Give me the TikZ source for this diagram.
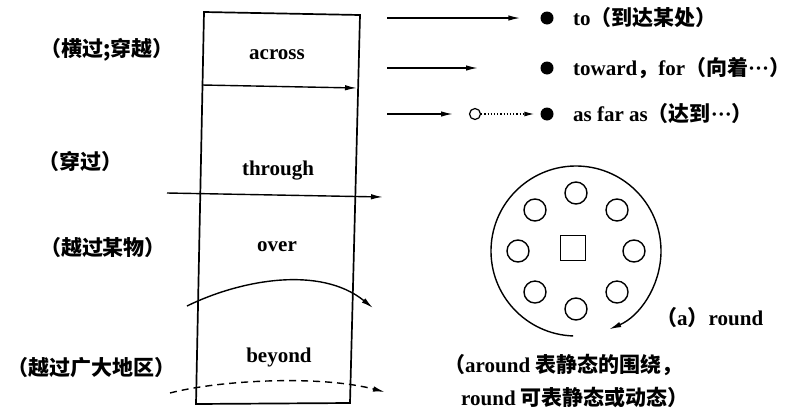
\documentclass[tikz,border=0pt]{standalone}
\usepackage{fontspec}
\setmainfont{Liberation Serif}
\newfontfamily\cjk{Noto Sans CJK SC}
\usetikzlibrary{arrows.meta}
\newcommand{\zh}[1]{{\cjk #1}}
\tikzstyle{word} = [font=\fontsize{21}{24}\selectfont\bfseries, inner sep=0pt]
\tikzstyle{note} = [word, anchor=west]
\tikzstyle{line} = [draw, line width=1.4pt, -{Latex[length=12pt,width=5.5pt]}]
\tikzstyle{dot} = [circle, fill=black, minimum size=13pt, inner sep=0pt]
\tikzstyle{ring} = [circle, draw, line width=1.4pt, minimum size=22pt, inner sep=0pt]

\begin{document}
\begin{tikzpicture}[x=1pt, y=-1pt]
\useasboundingbox (0,0) rectangle (793,410);
    % The box
\coordinate (c1) at (204,12);
\coordinate (c2) at (360,15);
\coordinate (c3) at (350,403);
\coordinate (c4) at (196,404);
\draw[line width=1.7pt] (c1) -- (c2) -- (c3) -- (c4) -- cycle;

    % Place nodes
\node[word] (across) at (277,55) {across};
\node[word] (through) at (278,171) {through};
\node[word] (over) at (277,247) {over};
\node[word] (beyond) at (279,357) {beyond};
\node[word] (l1) at (107,50) {\zh{（横过;穿越）}};
\node[word] (l2) at (80,161) {\zh{（穿过）}};
\node[word] (l3) at (103,248) {\zh{（越过某物）}};
\node[word] (l4) at (92,368) {\zh{（越过广大地区）}};

\node[dot] (d1) at (547,18) {};
\node[dot] (d2) at (547,68) {};
\node[dot] (d3) at (547,114) {};
\node[circle, draw, line width=1.2pt, minimum size=11pt, inner sep=0pt] (o3) at (475,114) {};
\node[note] (t1) at (573,18) {to\zh{（到达某处）}};
\node[note] (t2) at (573,68) {toward\zh{，}for\zh{（向着}···\zh{）}};
\node[note] (t3) at (573,114) {as far as\zh{（达到}···\zh{）}};

\coordinate (hub) at (576,251);
\node[draw, line width=1.4pt, minimum size=25pt, inner sep=0pt] (sq) at (573,248) {};
\foreach \a [count=\i] in {0,45,...,315}
    \node[ring] (s\i) at ([shift={(\a:58)}]hub) {};
\node[note] (ra) at (656,318) {\zh{（}a\zh{）}round};
\node[note] (rb) at (444,365) {\zh{（}around \zh{表静态的围绕，}};
\node[note] (rc) at (461,397) {round \zh{可表静态或动态）}};

    % Draw edges
\coordinate (ac1) at (202,85);
\coordinate (ac2) at (357,88);
\coordinate (th1) at (167,193);
\coordinate (th2) at (383,197);
\coordinate (ov1) at (187,306);
\coordinate (ov2) at (373,308);
\coordinate (be1) at (170,393);
\coordinate (be2) at (385,392);
\coordinate (a1) at (387,18);
\coordinate (a2) at (387,68);
\coordinate (a2e) at (478,68);
\coordinate (a3) at (387,114);
\coordinate (a3e) at (453,114);
\path [line] (ac1) -- (ac2);
\path [line] (th1) -- (th2);
\path [line] (ov1) .. controls (240,280) and (320,265) .. (ov2);
\path [line, dash pattern=on 7pt off 5pt] (be1) .. controls (220,380) and (320,375) .. (be2);
\path [line, shorten >=20pt] (a1) -- (d1);
\path [line] (a2) -- (a2e);
\path [line] (a3) -- (a3e);
\path [line, line width=1.2pt, dotted, -{Latex[length=10pt,width=5pt]}, shorten >=6pt] (o3) -- (d3);
\path [line] ([shift={(92:85)}]hub) arc[start angle=92, end angle=427, radius=85];

\end{tikzpicture}
\end{document}
